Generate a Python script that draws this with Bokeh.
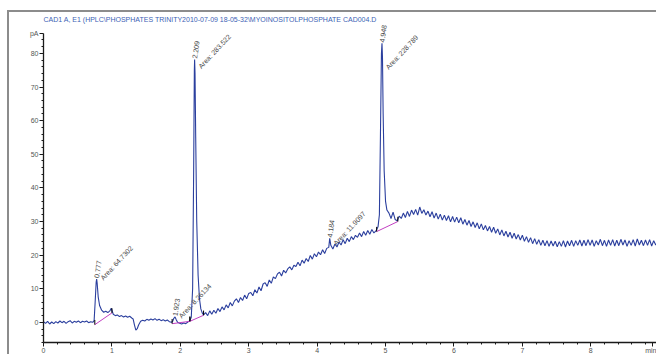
import math
from bokeh.plotting import figure
from bokeh.models import Range1d, FixedTicker, ColumnDataSource, LabelSet, InlineStyleSheet
from bokeh.core.properties import value
from bokeh.embed import file_html
from bokeh.resources import INLINE

TITLE = "CAD1 A, E1 (HPLC\\PHOSPHATES TRINITY2010-07-09 18-05-32\\MYOINOSITOLPHOSPHATE CAD004.D"
X_UNIT = "min"
Y_UNIT = "pA"

# axis ticks
x_major_ticks = [0, 1, 2, 3, 4, 5, 6, 7, 8]
y_major_ticks = [0, 10, 20, 30, 40, 50, 60, 70, 80]
x_unit_pos = 8.9
y_unit_pos = 86

# chromatogram trace (min, pA)
time_min = [
    0.00, 0.03, 0.06, 0.09, 0.12, 0.15, 0.18, 0.21, 0.24, 0.27, 0.30, 0.33, 0.36, 0.39, 0.42, 0.45,
    0.48, 0.51, 0.54, 0.57, 0.60, 0.63, 0.66, 0.69, 0.72,
    0.74, 0.755, 0.77, 0.777, 0.785, 0.80, 0.82, 0.85, 0.88, 0.91, 0.94, 0.97, 0.99, 1.00, 1.02,
    1.05, 1.08, 1.11, 1.14, 1.17, 1.20, 1.23, 1.26, 1.29, 1.31, 1.33, 1.35, 1.37, 1.39, 1.42,
    1.45, 1.48, 1.51, 1.54, 1.57, 1.60, 1.63, 1.66, 1.69, 1.72, 1.75, 1.78, 1.81, 1.84, 1.87,
    1.89, 1.905, 1.923, 1.94, 1.96, 1.99, 2.02, 2.05, 2.08, 2.11, 2.14,
    2.16, 2.18, 2.195, 2.205, 2.209, 2.215, 2.225, 2.24, 2.26, 2.28, 2.30, 2.32, 2.34,
    2.37, 2.40, 2.43, 2.46, 2.49, 2.52, 2.55, 2.58, 2.61, 2.64, 2.67, 2.70, 2.73, 2.76, 2.79,
    2.82, 2.85, 2.88, 2.91, 2.94, 2.97, 3.00, 3.03, 3.06, 3.09, 3.12, 3.15, 3.18, 3.21, 3.24,
    3.27, 3.30, 3.33, 3.36, 3.39, 3.42, 3.45, 3.48, 3.51, 3.54, 3.57, 3.60, 3.63, 3.66, 3.69,
    3.72, 3.75, 3.78, 3.81, 3.84, 3.87, 3.90, 3.93, 3.96, 3.99, 4.02, 4.05, 4.08, 4.11, 4.14,
    4.17, 4.184, 4.20, 4.23, 4.26, 4.29, 4.32, 4.35, 4.38, 4.41, 4.44, 4.47, 4.50, 4.53, 4.56,
    4.59, 4.62, 4.65, 4.68, 4.71, 4.74, 4.77, 4.80, 4.83, 4.86, 4.89,
    4.91, 4.925, 4.94, 4.948, 4.955, 4.965, 4.98, 5.00, 5.02, 5.05, 5.08, 5.11, 5.14, 5.17,
    5.20, 5.23, 5.26, 5.29, 5.32, 5.35, 5.38, 5.41, 5.44, 5.47, 5.50, 5.53, 5.56, 5.59, 5.62,
    5.65, 5.68, 5.71, 5.74, 5.77, 5.80, 5.83, 5.86, 5.89, 5.92, 5.95, 5.98, 6.01, 6.04, 6.07,
    6.10, 6.13, 6.16, 6.19, 6.22, 6.25, 6.28, 6.31, 6.34, 6.37, 6.40, 6.43, 6.46, 6.49, 6.52,
    6.55, 6.58, 6.61, 6.64, 6.67, 6.70, 6.73, 6.76, 6.79, 6.82, 6.85, 6.88, 6.91, 6.94, 6.97,
    7.00, 7.03, 7.06, 7.09, 7.12, 7.15, 7.18, 7.21, 7.24, 7.27, 7.30, 7.33, 7.36, 7.39, 7.42,
    7.45, 7.48, 7.51, 7.54, 7.57, 7.60, 7.63, 7.66, 7.69, 7.72, 7.75, 7.78, 7.81, 7.84, 7.87,
    7.90, 7.93, 7.96, 7.99, 8.02, 8.05, 8.08, 8.11, 8.14, 8.17, 8.20, 8.23, 8.26, 8.29, 8.32,
    8.35, 8.38, 8.41, 8.44, 8.47, 8.50, 8.53, 8.56, 8.59, 8.62, 8.65, 8.68, 8.71, 8.74, 8.77,
    8.80, 8.83, 8.86, 8.89, 8.92, 8.95, 8.98,
]
signal_pa = [
    0.2, -0.3, 0.3, -0.5, 0.1, -0.4, 0.2, -0.2, 0.4, -0.1, 0.3, -0.3, 0.2, 0.5, -0.2, 0.3,
    0.0, 0.4, -0.1, 0.3, 0.1, 0.4, -0.1, 0.2, 0.0,
    0.5, 6.0, 12.0, 12.9, 11.5, 7.5, 5.0, 3.6, 3.0, 3.3, 2.9, 3.4, 4.2, 3.6, 2.4,
    2.0, 2.2, 1.7, 2.0, 1.6, 1.9, 1.5, 1.8, 1.3, 1.0, -0.8, -2.3, -1.9, -0.8, 0.3,
    0.6, 0.4, 0.9, 0.6, 1.0, 0.7, 1.1, 0.6, 0.9, 0.5, 0.8, 0.4, 0.7, 0.2, 0.0,
    0.4, 1.2, 1.6, 0.8, 0.0, -0.3, -0.5, -0.2, -0.4, 0.1, 0.5,
    1.5, 10.0, 45.0, 75.0, 78.2, 74.0, 55.0, 30.0, 14.0, 7.0, 4.0, 2.8, 2.2,
    2.9, 2.0, 3.4, 2.4, 3.6, 2.7, 4.1, 3.2, 4.6, 3.7, 5.2, 4.3, 5.9, 4.9, 6.3,
    7.0, 5.9, 7.4, 6.5, 8.1, 7.0, 8.6, 8.9, 7.9, 9.7, 8.7, 10.5, 9.4, 11.4, 11.8,
    10.7, 12.6, 11.6, 13.5, 13.0, 14.4, 14.9, 13.8, 15.5, 14.7, 15.9, 16.5, 15.6, 17.0, 16.6,
    17.9, 16.8, 18.5, 17.6, 19.0, 18.1, 19.9, 18.8, 20.4, 19.5, 20.9, 20.1, 21.6, 20.5, 22.0,
    22.3, 25.0, 22.9, 21.8, 23.3, 22.4, 23.9, 23.0, 24.6, 23.4, 25.0, 24.0, 25.5, 24.6, 25.9,
    25.3, 26.6, 25.5, 27.0, 25.9, 27.3, 26.2, 27.6, 26.6, 27.2, 28.4,
    32.0, 55.0, 80.0, 83.0, 79.0, 62.0, 45.0, 36.0, 33.4, 32.5, 30.9, 32.8, 30.6, 30.2,
    31.6, 30.9, 32.5, 31.2, 33.0, 31.5, 33.4, 32.1, 33.6, 31.9, 34.3, 32.4, 33.5, 31.9, 33.1,
    31.4, 32.9, 31.0, 32.5, 30.7, 32.2, 30.4, 31.9, 30.3, 31.7, 29.9, 31.5, 29.8, 31.3, 29.6,
    31.1, 29.2, 30.6, 28.9, 30.3, 28.5, 29.9, 28.2, 29.6, 27.8, 29.3, 27.5, 28.8, 27.2, 28.5,
    26.8, 28.3, 26.5, 27.8, 26.0, 27.5, 25.7, 27.1, 25.4, 26.8, 25.0, 26.5, 24.8, 26.1, 24.5,
    25.9, 24.1, 25.5, 23.8, 25.2, 23.4, 24.9, 23.2, 24.6, 22.9, 24.4, 22.8, 24.3, 22.6, 24.2,
    22.7, 24.1, 22.5, 24.0, 22.6, 24.3, 22.4, 24.2, 22.8, 24.4, 22.6, 24.3, 22.9, 24.5, 22.7,
    24.4, 22.8, 24.6, 22.9, 24.5, 22.6, 24.3, 23.0, 24.7, 22.8, 24.4, 22.6, 24.5, 22.9, 24.6,
    22.7, 24.4, 22.8, 24.7, 23.0, 24.5, 22.6, 24.3, 22.9, 24.6, 22.7, 24.8, 23.0, 24.4, 22.8,
    24.5, 22.9, 24.6, 22.7, 24.3, 23.0, 24.1,
]

# integrated peaks
peak_rt = [0.777, 1.923, 2.209, 4.184, 4.948]
peak_height = [12.9, 1.6, 78.2, 25.0, 83.0]
peak_area = ["64.7302", "8.26134", "283.522", "11.9097", "228.789"]

# integration baselines (start/end time and level)
base_t0 = [0.75, 1.88, 2.14, 4.87]
base_v0 = [-0.7, -0.4, 0.3, 27.0]
base_t1 = [1.00, 2.14, 2.34, 5.18]
base_v1 = [2.8, 0.3, 2.1, 30.0]

FONT = "Liberation Sans"
TRACE = "#2b3f9e"
TXT = "#4a4a4a"
X_END = 8.99
Y_START = -6.0
Y_END = 88.6

p = figure(width=649, height=344, output_backend="svg", toolbar_location=None,
           x_range=Range1d(0, X_END), y_range=Range1d(Y_START, Y_END),
           min_border_left=34, min_border_right=0, min_border_top=11, min_border_bottom=11,
           title=TITLE)
p.stylesheets = [InlineStyleSheet(css=":host { border-left: 2px solid #8c8c8c; border-top: 2px solid #8c8c8c; margin-left: 7px; margin-top: 10px; }")]
p.outline_line_color = None
p.grid.visible = False
p.background_fill_color = "white"

p.title.text_font = FONT
p.title.text_font_size = "7px"
p.title.text_font_style = "normal"
p.title.text_color = "#3d5fb5"
p.title.align = "left"
p.title.offset = 0
p.title.standoff = 3

x_minor = [round(i * 0.2, 1) for i in range(45) if i % 5]
y_minor = [v for v in range(-6, 86, 2) if v % 10]
p.xaxis.ticker = FixedTicker(ticks=x_major_ticks + [x_unit_pos], minor_ticks=x_minor)
p.yaxis.ticker = FixedTicker(ticks=y_major_ticks + [y_unit_pos], minor_ticks=y_minor)
p.xaxis.major_label_overrides = {x_unit_pos: X_UNIT}
p.yaxis.major_label_overrides = {y_unit_pos: Y_UNIT}
p.xaxis.bounds = (0, X_END)
p.yaxis.bounds = (Y_START, y_unit_pos)
for ax in (p.xaxis, p.yaxis):
    ax.axis_line_color = "#1a1a1a"
    ax.axis_line_width = 1.3
    ax.major_tick_line_color = "#1a1a1a"
    ax.minor_tick_line_color = "#1a1a1a"
    ax.major_tick_out = 4
    ax.major_tick_in = 0
    ax.minor_tick_out = 2
    ax.minor_tick_in = 0
    ax.major_label_text_font = FONT
    ax.major_label_text_font_size = "7px"
    ax.major_label_text_color = "#555555"
p.xaxis.major_label_standoff = 0
p.yaxis.major_label_standoff = 1

p.line(time_min, signal_pa, line_color=TRACE, line_width=1.1)

p.segment(x0=base_t0, y0=base_v0, x1=base_t1, y1=base_v1, line_color="#c23fc2", line_width=1)
tick_t = base_t0 + base_t1
tick_v = base_v0 + base_v1
p.segment(x0=tick_t, y0=tick_v, x1=tick_t, y1=[v + 1.4 for v in tick_v], line_color="black", line_width=1)

area_dy = [0, 0, -8, -6, -25]
src = ColumnDataSource(dict(
    x=peak_rt, y=peak_height,
    rt=[f"{r:.3f}" for r in peak_rt],
    area=[f"Area: {a}" for a in peak_area],
    dy=area_dy,
))
rt_labels = LabelSet(x="x", y="y", text="rt", source=src, angle=82, angle_units="deg",
                     text_align="left", text_baseline="middle", y_offset=1,
                     text_font=value(FONT), text_font_size="7px", text_color=TXT)
area_labels = LabelSet(x="x", y="y", text="area", source=src, angle=47, angle_units="deg",
                       text_align="left", text_baseline="middle", x_offset=5, y_offset="dy",
                       text_font=value(FONT), text_font_size="7px", text_color=TXT)
p.add_layout(rt_labels)
p.add_layout(area_labels)

open("out.html", "w").write(file_html(p, INLINE))
